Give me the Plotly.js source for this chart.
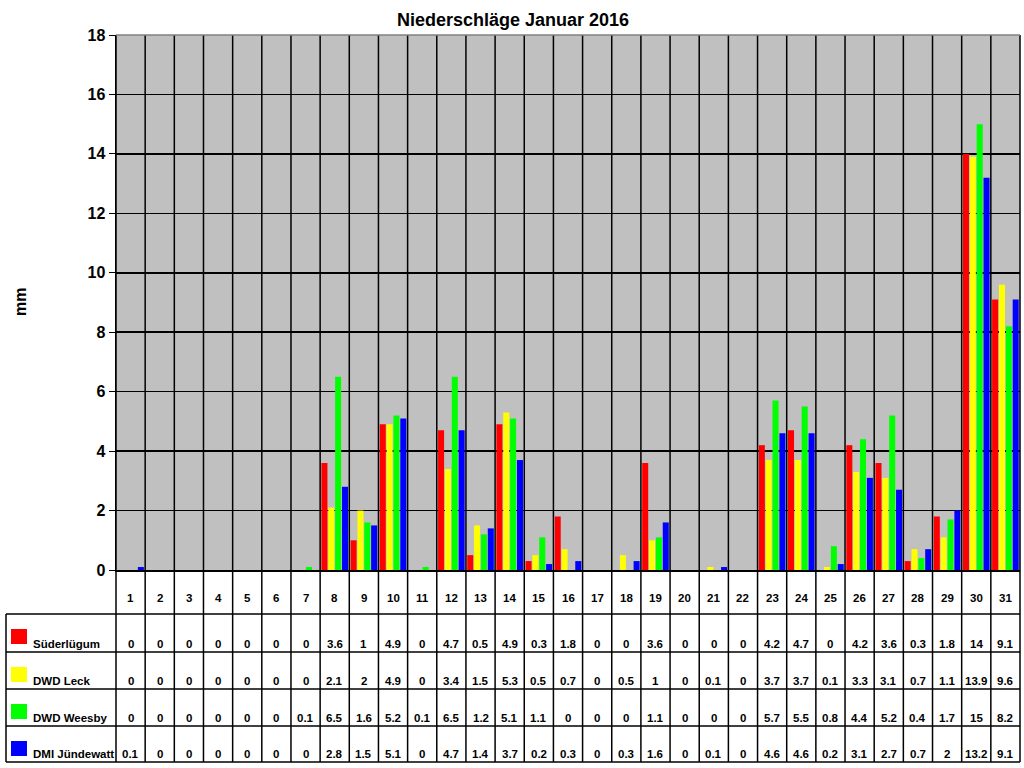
<!DOCTYPE html>
<html>
<head>
<meta charset="utf-8">
<script src="https://cdn.plot.ly/plotly-3.0.1.min.js"></script>
<style>
  body { margin: 0; background: #fff; }
  #plot { width: 1024px; height: 768px; }
</style>
</head>
<body>
<div id="plot"></div>
<script>
// Tage im Januar
var tage = ['1','2','3','4','5','6','7','8','9','10','11','12','13','14','15','16',
            '17','18','19','20','21','22','23','24','25','26','27','28','29','30','31']

// Niederschlag in mm je Station
var suederluegum = [0,0,0,0,0,0,0,3.6,1,4.9,0,4.7,0.5,4.9,0.3,1.8,0,0,3.6,0,0,0,4.2,4.7,0,4.2,3.6,0.3,1.8,14,9.1]
var dwdLeck      = [0,0,0,0,0,0,0,2.1,2,4.9,0,3.4,1.5,5.3,0.5,0.7,0,0.5,1,0,0.1,0,3.7,3.7,0.1,3.3,3.1,0.7,1.1,13.9,9.6]
var dwdWeesby    = [0,0,0,0,0,0,0.1,6.5,1.6,5.2,0.1,6.5,1.2,5.1,1.1,0,0,0,1.1,0,0,0,5.7,5.5,0.8,4.4,5.2,0.4,1.7,15,8.2]
var dmiJuendewatt= [0.1,0,0,0,0,0,0,2.8,1.5,5.1,0,4.7,1.4,3.7,0.2,0.3,0,0.3,1.6,0,0.1,0,4.6,4.6,0.2,3.1,2.7,0.7,2,13.2,9.1]

var stationen = ['Süderlügum', 'DWD Leck', 'DWD Weesby', 'DMI Jündewatt']
var reihen = [suederluegum, dwdLeck, dwdWeesby, dmiJuendewatt]
var farben = ['#FF0000', '#FFFF00', '#00FF00', '#0000FF']

// Pixelgeometrie: Papierbereich 116..1020 x 35..762
var L = 116, R = 1020, T = 35, B = 762
var W = R - L, H = B - T
function px(x) { return (x - L) / W }
function py(y) { return (B - y) / H }
var plotBottom = 570
var zeilen = [614, 652, 689, 726, 762]

var data = []
for (var s = 0; s < reihen.length; s++) {
    data.push({
        type: 'bar',
        x: tage,
        y: reihen[s],
        name: stationen[s],
        marker: {color: farben[s], line: {width: 0}},
        hoverinfo: 'skip'
    })
}

var fett = {family: 'Liberation Sans, Arial, sans-serif', size: 11.5, color: '#000', weight: 'bold'}
var shapes = []
var annotations = []
var n = tage.length

// vertikale Linien an den Kategoriegrenzen (Diagramm + Tabelle)
for (var i = 0; i <= n; i++) {
    shapes.push({type: 'line', xref: 'paper', yref: 'paper',
        x0: i / n, x1: i / n, y0: py(B), y1: py(T),
        line: {color: '#000', width: 1.5}})
}
// horizontale Tabellenlinien
for (var r = 0; r < zeilen.length; r++) {
    shapes.push({type: 'line', xref: 'paper', yref: 'paper',
        x0: px(6), x1: 1, y0: py(zeilen[r]), y1: py(zeilen[r]),
        line: {color: '#000', width: 1.5}})
}
shapes.push({type: 'line', xref: 'paper', yref: 'paper',
    x0: px(6), x1: px(6), y0: py(zeilen[0]), y1: py(B), line: {color: '#000', width: 1.5}})
// Rahmen oben grau
shapes.push({type: 'line', xref: 'paper', yref: 'paper',
    x0: 0, x1: 1, y0: 1, y1: 1, line: {color: '#808080', width: 1.5}})

// Kategoriebeschriftung (x als Kategorieindex)
for (var i = 0; i < n; i++) {
    annotations.push({xref: 'x', yref: 'paper', x: i, y: py(598),
        text: tage[i], showarrow: false, font: fett, xanchor: 'center', yanchor: 'middle'})
}

// Tabelle: Legende und Werte
for (var s = 0; s < reihen.length; s++) {
    var oben = zeilen[s], unten = zeilen[s + 1]
    shapes.push({type: 'rect', xref: 'paper', yref: 'paper',
        x0: px(11), x1: px(27), y0: py(oben + 15), y1: py(oben + 30),
        fillcolor: farben[s], line: {width: 0}})
    annotations.push({xref: 'paper', yref: 'paper', x: px(31), y: py(unten - 8),
        text: stationen[s], showarrow: false, xanchor: 'left', yanchor: 'middle',
        font: {family: fett.family, size: 11.5, color: '#000', weight: 'bold'}})
    for (var i = 0; i < n; i++) {
        annotations.push({xref: 'x', yref: 'paper', x: i, y: py(unten - 8),
            text: String(reihen[s][i]), showarrow: false, font: fett,
            xanchor: 'center', yanchor: 'middle'})
    }
}

// Achsentitel
annotations.push({xref: 'paper', yref: 'paper', x: px(20), y: py(302),
    text: 'mm', textangle: -90, showarrow: false, xanchor: 'center', yanchor: 'middle',
    font: {family: fett.family, size: 16, color: '#000', weight: 'bold'}})

var layout = {
    width: 1024,
    height: 768,
    margin: {l: L, r: 1024 - R, t: T, b: 768 - B, pad: 0},
    paper_bgcolor: '#FFFFFF',
    plot_bgcolor: '#C0C0C0',
    showlegend: false,
    barmode: 'group',
    bargap: 0.06,
    bargroupgap: 0.12,
    title: {
        text: 'Niederschläge Januar 2016',
        x: 0.501, xref: 'container', y: 0.974, yref: 'container', yanchor: 'middle',
        font: {family: fett.family, size: 18, color: '#000', weight: 'bold'}
    },
    xaxis: {
        type: 'category',
        range: [-0.5, n - 0.5],
        showticklabels: false,
        showgrid: false,
        zeroline: false,
        showline: true,
        linecolor: '#000',
        linewidth: 1.5,
        ticks: ''
    },
    yaxis: {
        domain: [py(plotBottom), 1],
        range: [0, 18],
        dtick: 2,
        showgrid: true,
        gridcolor: '#000',
        gridwidth: 1.5,
        zeroline: false,
        showline: true,
        linecolor: '#000',
        linewidth: 1.5,
        ticks: 'outside',
        ticklen: 6,
        tickcolor: '#000',
        tickfont: {family: fett.family, size: 16, color: '#000', weight: 'bold'},
        title: {text: ''}
    },
    shapes: shapes,
    annotations: annotations
}

Plotly.newPlot('plot', data, layout, {displayModeBar: false, staticPlot: true})
</script>
</body>
</html>
